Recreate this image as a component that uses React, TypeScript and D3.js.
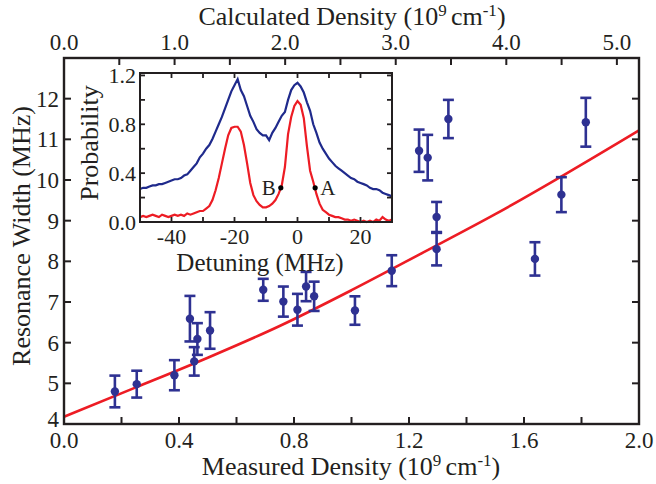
import React from 'react'
import * as d3 from 'd3'

// main panel: measured density vs resonance width
const densityMeasured = [0.177, 0.253, 0.384, 0.438, 0.453, 0.464, 0.508, 0.693, 0.763, 0.812, 0.842, 0.87, 1.012, 1.14, 1.235, 1.265, 1.296, 1.296, 1.337, 1.638, 1.73, 1.815]
const resonanceWidth = [4.8, 4.98, 5.2, 6.59, 5.54, 6.09, 6.3, 7.3, 7.01, 6.81, 7.38, 7.14, 6.79, 7.77, 10.72, 10.55, 9.09, 8.3, 11.5, 8.06, 9.64, 11.42]
const widthError = [0.39, 0.33, 0.37, 0.56, 0.35, 0.39, 0.45, 0.27, 0.37, 0.39, 0.36, 0.36, 0.35, 0.38, 0.52, 0.56, 0.37, 0.4, 0.47, 0.41, 0.43, 0.6]

const fitDensity = [0, 0.25, 0.5, 0.75, 1.0, 1.25, 1.5, 1.75, 2.0]
const fitWidth = [4.18, 4.9, 5.63, 6.41, 7.29, 8.22, 9.16, 10.17, 11.22]

const bottomTicks = [0, 0.2, 0.4, 0.6, 0.8, 1.0, 1.2, 1.4, 1.6, 1.8, 2.0]
const bottomLabels = [0, 0.4, 0.8, 1.2, 1.6, 2.0]
const topTicks = [0, 0.5, 1, 1.5, 2, 2.5, 3, 3.5, 4, 4.5, 5]
const topLabels = [0, 1, 2, 3, 4, 5]
const yTicks = [4, 5, 6, 7, 8, 9, 10, 11, 12]

// inset: probability vs detuning
const detuning = [
  -50, -49, -48, -47, -46, -45, -44, -43, -42, -41, -40, -39, -38, -37, -36, -35, -34, -33, -32, -31,
  -30, -29, -28, -27, -26, -25, -24, -23, -22, -21, -20, -19, -18, -17, -16, -15, -14, -13, -12, -11,
  -10, -9, -8, -7, -6, -5, -4, -3, -2, -1, 0, 1, 2, 3, 4, 5, 6, 7, 8, 9,
  10, 11, 12, 13, 14, 15, 16, 17, 18, 19, 20, 21, 22, 23, 24, 25, 26, 27, 28, 29, 30,
]
const probBlue = [
  0.27, 0.28, 0.28, 0.29, 0.3, 0.3, 0.31, 0.31, 0.32, 0.33, 0.34, 0.35, 0.35, 0.36, 0.38, 0.39, 0.42, 0.45, 0.48, 0.53,
  0.56, 0.6, 0.63, 0.68, 0.74, 0.8, 0.86, 0.93, 1.0, 1.07, 1.12, 1.17, 1.08, 1.03, 0.95, 0.87, 0.82, 0.76, 0.73, 0.71,
  0.71, 0.67, 0.73, 0.77, 0.82, 0.87, 0.9, 1.0, 1.08, 1.12, 1.14, 1.11, 1.06, 0.98, 0.91, 0.8, 0.73, 0.65, 0.6, 0.56,
  0.52, 0.49, 0.46, 0.44, 0.42, 0.4, 0.38, 0.36, 0.35, 0.33, 0.32, 0.31, 0.3, 0.28, 0.27, 0.27, 0.26, 0.24, 0.23, 0.22, 0.21,
]
const probRed = [
  0.04, 0.05, 0.04, 0.05, 0.06, 0.05, 0.04, 0.06, 0.05, 0.04, 0.05, 0.06, 0.05, 0.06, 0.05, 0.07, 0.06, 0.07, 0.08, 0.09,
  0.09, 0.11, 0.13, 0.18, 0.26, 0.36, 0.48, 0.6, 0.71, 0.77, 0.78, 0.78, 0.74, 0.63, 0.48, 0.32, 0.22, 0.17, 0.14, 0.12,
  0.12, 0.13, 0.15, 0.18, 0.23, 0.3, 0.45, 0.72, 0.86, 0.95, 0.99, 0.96, 0.85, 0.62, 0.42, 0.33, 0.23, 0.15, 0.1, 0.08,
  0.06, 0.05, 0.04, 0.04, 0.03, 0.02, 0.02, 0.01, 0.02, 0.01, 0.0, 0.01, 0.0, 0.01, 0.0, 0.02, 0.01, 0.04, 0.02, 0.01, 0.02,
]
const markerLabels = ['B', 'A']
const markerDetuning = [-5.3, 5.6]
const markerProb = [0.28, 0.28]

const insetXTicks = [-50, -40, -30, -20, -10, 0, 10, 20, 30]
const insetXLabels = [-40, -20, 0, 20]
const insetYTicks = [0, 0.2, 0.4, 0.6, 0.8, 1.0, 1.2]
const insetYLabels = [0, 0.4, 0.8, 1.2]

const BLUE = '#2e3192'
const NAVY = '#1f2a8c'
const RED = '#ed1c24'
const INK = '#231f20'
const FONT = '"Liberation Serif", "Times New Roman", serif'

const Sup = ({ children }: { children: React.ReactNode }) => (
  <tspan dy={-9} fontSize={17}>
    {children}
  </tspan>
)

const DensityTitle = ({ label, x, y }: { label: string; x: number; y: number }) => (
  <text x={x} y={y} textAnchor="middle" fontSize={26}>
    {label} (10<Sup>9 </Sup>
    <tspan dy={9}>cm</tspan>
    <Sup>-1</Sup>
    <tspan dy={9}>)</tspan>
  </text>
)

export default function App() {
  const x = d3.scaleLinear().domain([0, 2]).range([64, 639])
  const xTop = d3.scaleLinear().domain([0, 5.2]).range([64, 639])
  const y = d3.scaleLinear().domain([4, 13]).range([424, 58])

  const ix = d3.scaleLinear().domain([-50, 30]).range([140, 392])
  const iy = d3.scaleLinear().domain([0, 1.22]).range([222, 73])

  const fitLine = d3
    .line<number>()
    .x((d, i) => x(fitDensity[i]))
    .y(d => y(d))
    .curve(d3.curveMonotoneX)

  const insetLine = d3
    .line<number>()
    .x((d, i) => ix(detuning[i]))
    .y(d => iy(d))

  const [x0, x1] = x.range()
  const [y0, y1] = y.range()
  const [ix0, ix1] = ix.range()
  const [iy0, iy1] = iy.range()

  return (
    <svg
      width={656}
      height={484}
      style={{ position: 'absolute', left: 0, top: 0, background: '#fff' }}
      fontFamily={FONT}
    >
      {/* red fit */}
      <path d={fitLine(fitWidth) || ''} fill="none" stroke={RED} strokeWidth={2.6} />

      {/* data with error bars */}
      {densityMeasured.map((d, i) => {
        const cx = x(d)
        const lo = y(resonanceWidth[i] - widthError[i])
        const hi = y(resonanceWidth[i] + widthError[i])
        return (
          <g key={i} stroke={BLUE} strokeWidth={2.6}>
            <line x1={cx} x2={cx} y1={lo} y2={hi} />
            <line x1={cx - 5.5} x2={cx + 5.5} y1={lo} y2={lo} />
            <line x1={cx - 5.5} x2={cx + 5.5} y1={hi} y2={hi} />
            <circle cx={cx} cy={y(resonanceWidth[i])} r={4.2} fill={BLUE} stroke="none" />
          </g>
        )
      })}

      {/* main frame & ticks */}
      <g stroke={INK} strokeWidth={2}>
        {bottomTicks.map(t => (
          <line key={'b' + t} x1={x(t)} x2={x(t)} y1={y0} y2={y0 - 7} />
        ))}
        {topTicks.map(t => (
          <line key={'t' + t} x1={xTop(t)} x2={xTop(t)} y1={y1} y2={y1 + 7} />
        ))}
        {yTicks.map(t => (
          <g key={'y' + t}>
            <line x1={x0} x2={x0 + 7} y1={y(t)} y2={y(t)} />
            <line x1={x1} x2={x1 - 7} y1={y(t)} y2={y(t)} />
          </g>
        ))}
        <rect x={x0} y={y1} width={x1 - x0} height={y0 - y1} fill="none" strokeWidth={2.4} />
      </g>

      <g fontSize={23} fill={INK}>
        {bottomLabels.map(t => (
          <text key={t} x={x(t)} y={448} textAnchor="middle">
            {t.toFixed(1)}
          </text>
        ))}
        {topLabels.map(t => (
          <text key={t} x={xTop(t)} y={50} textAnchor="middle">
            {t.toFixed(1)}
          </text>
        ))}
        {yTicks.map(t => (
          <text key={t} x={59} y={y(t) + (t === 4 ? 3 : 8)} textAnchor="end">
            {t}
          </text>
        ))}
        <DensityTitle label="Measured Density" x={351} y={475} />
        <DensityTitle label="Calculated Density" x={352} y={25} />
        <text transform="translate(30,236) rotate(-90)" textAnchor="middle" fontSize={26}>
          Resonance Width (MHz)
        </text>
      </g>

      {/* inset */}
      <rect x={ix0} y={iy1} width={ix1 - ix0} height={iy0 - iy1} fill="#fff" />
      <path d={insetLine(probBlue) || ''} fill="none" stroke={NAVY} strokeWidth={2.2} />
      <path d={insetLine(probRed) || ''} fill="none" stroke={RED} strokeWidth={2.2} />
      {markerDetuning.map((d, i) => (
        <g key={i}>
          <circle cx={ix(d)} cy={iy(markerProb[i])} r={2.6} fill="#000" />
          <text
            x={ix(d) + (i === 0 ? -5 : 5)}
            y={iy(markerProb[i]) + 7}
            textAnchor={i === 0 ? 'end' : 'start'}
            fontSize={21}
            fill={INK}
          >
            {markerLabels[i]}
          </text>
        </g>
      ))}
      <g stroke={INK} strokeWidth={1.8}>
        {insetXTicks.map(t => (
          <g key={'ix' + t}>
            <line x1={ix(t)} x2={ix(t)} y1={iy0} y2={iy0 - 5} />
            <line x1={ix(t)} x2={ix(t)} y1={iy1} y2={iy1 + 5} />
          </g>
        ))}
        {insetYTicks.map(t => (
          <g key={'iy' + t}>
            <line x1={ix0} x2={ix0 + 5} y1={iy(t)} y2={iy(t)} />
            <line x1={ix1} x2={ix1 - 5} y1={iy(t)} y2={iy(t)} />
          </g>
        ))}
        <rect x={ix0} y={iy1} width={ix1 - ix0} height={iy0 - iy1} fill="none" strokeWidth={2} />
      </g>
      <g fontSize={22} fill={INK}>
        {insetXLabels.map(t => (
          <text key={t} x={ix(t)} y={244} textAnchor="middle">
            {t}
          </text>
        ))}
        {insetYLabels.map(t => (
          <text key={t} x={136} y={iy(t) + 8} textAnchor="end">
            {t.toFixed(1)}
          </text>
        ))}
        <text x={260} y={271} textAnchor="middle" fontSize={25}>
          Detuning (MHz)
        </text>
        <text transform="translate(98,143) rotate(-90)" textAnchor="middle" fontSize={26}>
          Probability
        </text>
      </g>
    </svg>
  )
}
